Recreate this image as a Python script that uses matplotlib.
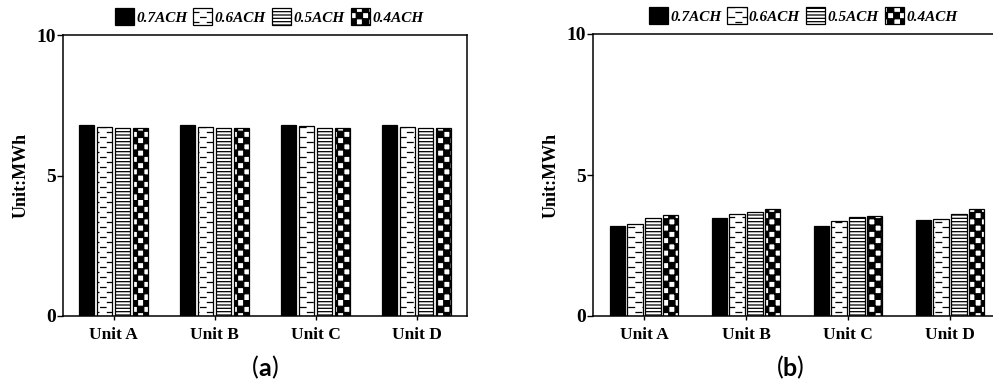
import warnings
import numpy as np
import matplotlib
matplotlib.use("Agg")
import matplotlib.pyplot as plt
import matplotlib.hatch as mhatch
from matplotlib.path import Path
from matplotlib.transforms import offset_copy

warnings.filterwarnings("ignore")

units = ["Unit A", "Unit B", "Unit C", "Unit D"]
series = ["0.7ACH", "0.6ACH", "0.5ACH", "0.4ACH"]

# energy per unit (MWh), one list per ventilation rate
energy_a = {
    "0.7ACH": [6.80, 6.80, 6.80, 6.80],
    "0.6ACH": [6.74, 6.74, 6.76, 6.73],
    "0.5ACH": [6.70, 6.70, 6.70, 6.70],
    "0.4ACH": [6.69, 6.69, 6.69, 6.69],
}
energy_b = {
    "0.7ACH": [3.19, 3.49, 3.19, 3.39],
    "0.6ACH": [3.27, 3.62, 3.38, 3.45],
    "0.5ACH": [3.46, 3.70, 3.52, 3.62],
    "0.4ACH": [3.57, 3.79, 3.53, 3.78],
}
hatches = ["", "d", "-----", "c"]
facecolors = ["black", "white", "white", "white"]


class DashHatch(mhatch.HatchPatternBase):
    """Staggered short horizontal dashes ('d')."""
    def __init__(self, hatch, density):
        k = hatch.count("d")
        self.cols = 7 * k
        self.rows = 20 * k
        self.num_vertices = self.cols * self.rows * 2

    def set_vertices_and_codes(self, vertices, codes):
        pts = []
        for j in range(self.rows):
            y = (j + 0.5) / self.rows
            start = 0.22 if j % 2 == 0 else 0.72
            for i in range(self.cols):
                x0 = (i + start - 0.2) / self.cols
                x1 = (i + start + 0.2) / self.cols
                x0, x1 = max(x0, 0.0), min(x1, 1.0)
                pts += [(x0, y), (x1, y)]
        vertices[:] = np.array(pts)
        codes[0::2] = Path.MOVETO
        codes[1::2] = Path.LINETO


class CheckerHatch(mhatch.HatchPatternBase):
    """Filled checkerboard squares ('c')."""
    filled = True

    def __init__(self, hatch, density):
        k = hatch.count("c")
        self.n = 16 * k
        self.num_vertices = (self.n * self.n // 2) * 5 if k else 0

    def set_vertices_and_codes(self, vertices, codes):
        s = 1.0 / self.n
        pts, cds = [], []
        for j in range(self.n):
            for i in range(self.n):
                if (i + j) % 2:
                    continue
                x, y = i * s, j * s
                pts += [(x, y), (x + s, y), (x + s, y + s), (x, y + s), (x, y)]
                cds += [Path.MOVETO, Path.LINETO, Path.LINETO, Path.LINETO,
                        Path.CLOSEPOLY]
        vertices[:] = np.array(pts)
        codes[:] = cds


mhatch._hatch_types.extend([DashHatch, CheckerHatch])

plt.rcParams["font.family"] = ["Liberation Serif", "DejaVu Serif"]
plt.rcParams["font.weight"] = "bold"
plt.rcParams["hatch.linewidth"] = 0.9

fig = plt.figure(figsize=(9.93, 3.88), dpi=100)
ax1 = fig.add_axes([63 / 993, 72 / 388, 404 / 993, 281 / 388])
ax2 = fig.add_axes([593 / 993, 72 / 388, 408 / 993, 282 / 388])

x = np.arange(len(units))
step = 0.176
width = 0.148


def caption(letter, cx):
    # "(x)" with a bold letter between plain parentheses
    y = 20 / 388
    kw = dict(fontsize=18, family="Lato", va="center")
    fig.text(cx, y, letter, ha="center", fontweight="bold", **kw)
    fig.text(cx, y, "(", ha="right", fontweight="normal",
             transform=offset_copy(fig.transFigure, fig=fig, x=-4.8, units="points"), **kw)
    fig.text(cx, y, ")", ha="left", fontweight="normal",
             transform=offset_copy(fig.transFigure, fig=fig, x=4.8, units="points"), **kw)


def draw_panel(ax, data, leg_x):
    handles = []
    for k, name in enumerate(series):
        b = ax.bar(x + (k - 1.5) * step, data[name], width,
                   color=facecolors[k], edgecolor="black", linewidth=0.9,
                   hatch=hatches[k], label=name)
        handles.append(b)
    ax.set_xlim(-0.5, 3.5)
    ax.set_ylim(0, 10)
    ax.set_yticks([0, 5, 10])
    ax.set_xticks(x)
    ax.set_xticklabels(units, fontsize=12.5, fontweight="bold")
    ax.tick_params(axis="y", labelsize=14, length=4, width=1, pad=1)
    ax.tick_params(axis="x", length=3, width=1, pad=5)
    for s in ax.spines.values():
        s.set_linewidth(1.1)
    ax.set_ylabel("Unit:MWh", fontsize=13, fontweight="bold", labelpad=5)
    ax.legend(handles=handles, loc="lower center", ncol=4,
              bbox_to_anchor=(leg_x, 1.0), frameon=False,
              handlelength=1.25, handleheight=1.35, handletextpad=0.15,
              columnspacing=0.4, borderaxespad=0.25,
              prop={"family": "Liberation Serif", "weight": "bold",
                    "style": "italic", "size": 11})


draw_panel(ax1, energy_a, 0.51)
draw_panel(ax2, energy_b, 0.515)
caption("a", 265 / 993)
caption("b", 790 / 993)

fig.savefig("out.png", dpi=100)
